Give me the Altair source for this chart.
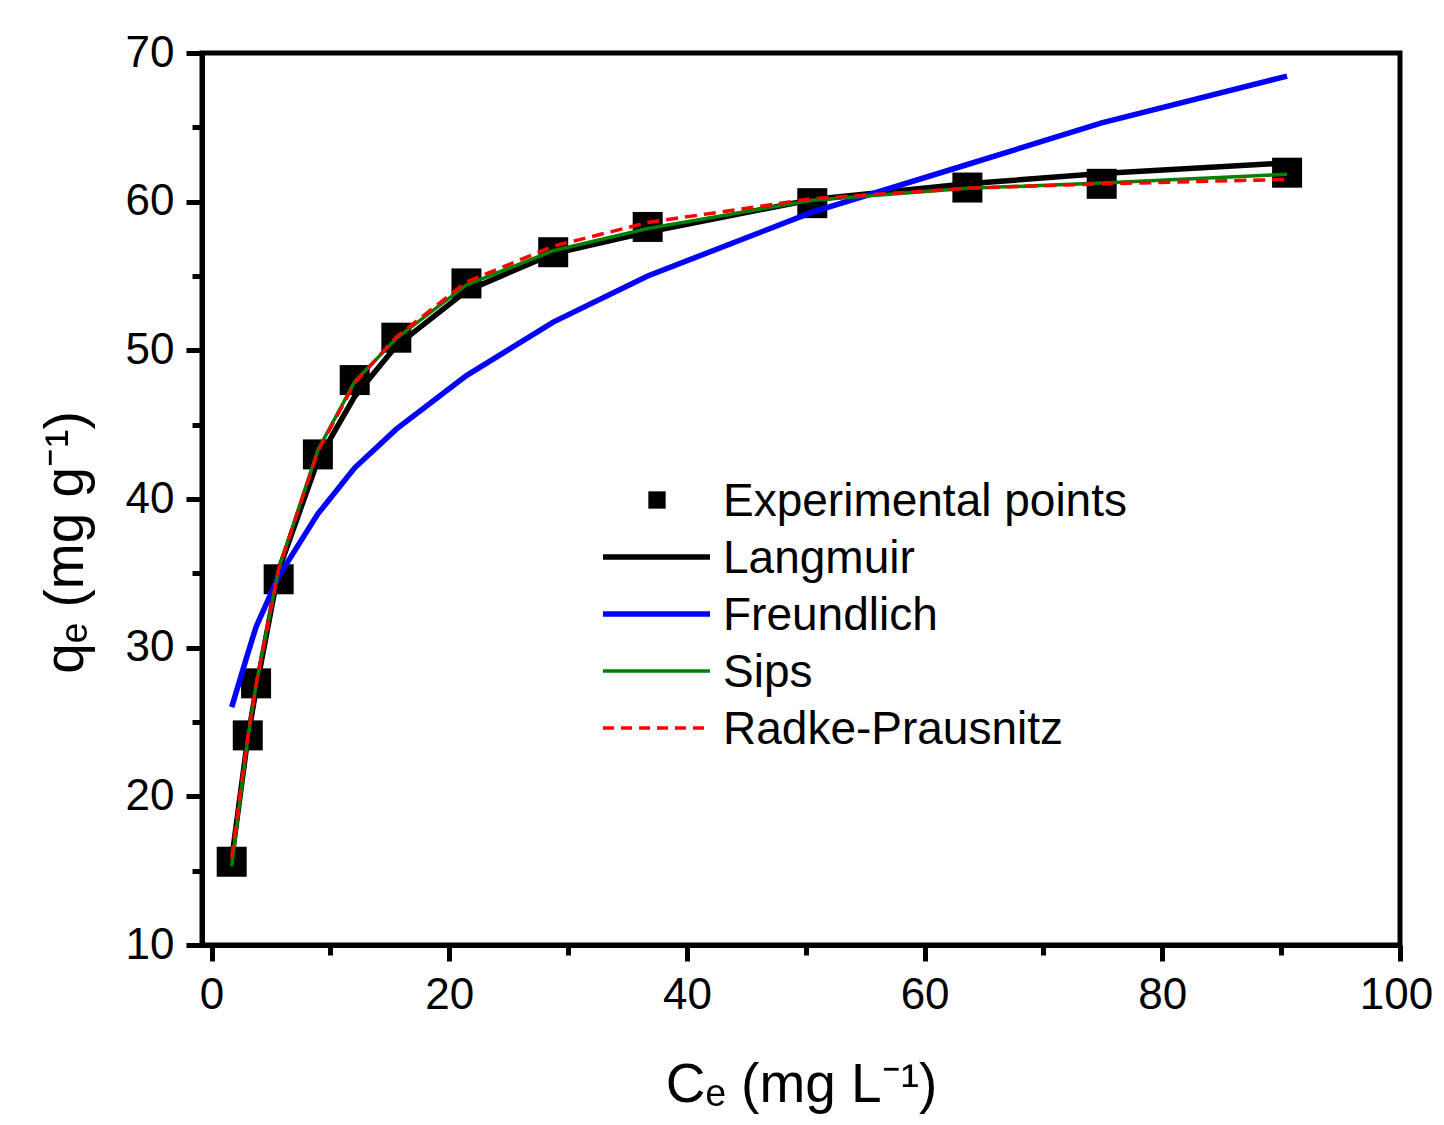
import altair as alt
import pandas as pd

# ---- data ----
ce = [1.7, 3.05, 3.75, 5.65, 8.95, 12.05, 15.55, 21.45, 28.75, 36.7, 50.55, 63.6, 74.9, 90.5]
qe_exp = [15.6, 24.1, 27.6, 34.6, 43.0, 48.0, 50.85, 54.5, 56.6, 58.3, 59.9, 60.95, 61.2, 61.95]
langmuir = [15.8, 23.9, 27.2, 35.2, 42.6, 46.9, 50.3, 54.0, 56.5, 57.95, 60.15, 61.2, 61.9, 62.6]
freundlich = [26.0, 29.6, 31.4, 34.8, 39.0, 42.1, 44.7, 48.3, 51.9, 55.0, 59.3, 62.5, 65.3, 68.45]
sips = [15.3, 23.9, 27.5, 35.3, 43.3, 47.9, 50.8, 54.4, 56.7, 58.2, 60.1, 60.9, 61.25, 61.85]
radke = [15.9, 24.0, 27.5, 35.3, 43.2, 47.8, 50.9, 54.6, 57.0, 58.6, 60.2, 60.9, 61.2, 61.5]

legend_labels = ["Experimental points", "Langmuir", "Freundlich", "Sips", "Radke-Prausnitz"]
x_ticks = list(range(0, 101, 10))
y_ticks = list(range(10, 71, 5))

FONT = "Liberation Sans, Arial, sans-serif"

df = pd.DataFrame({"ce": ce, "exp": qe_exp, "Langmuir": langmuir,
                   "Freundlich": freundlich, "Sips": sips, "Radke-Prausnitz": radke})
leg = pd.DataFrame({"label": legend_labels, "row": list(range(len(legend_labels)))})

xscale = alt.Scale(domain=[-0.8, 100], nice=False, zero=False)
yscale = alt.Scale(domain=[10, 70], nice=False, zero=False)

x_axis = alt.Axis(
    values=x_ticks,
    labelExpr="datum.value % 20 === 0 ? datum.label : ''",
    tickSize={"condition": {"test": "datum.value % 20 === 0", "value": 16}, "value": 10},
    labelOffset={"condition": {"test": "datum.value === 100", "value": -4}, "value": 0},
    tickWidth=5, tickColor="black", domainWidth=5, domainColor="black",
    labelFont=FONT, labelFontSize=44, labelColor="black", labelPadding=12,
    labelFlush=False, labelOverlap=False, grid=False,
    title="Cₑ (mg L⁻¹)", titleFont=FONT, titleFontSize=55, titleFontWeight="normal",
    titleColor="black", titleBaseline="alphabetic", titleY=156,
)
y_axis = alt.Axis(
    values=y_ticks,
    labelExpr="datum.value % 10 === 0 ? datum.label : ''",
    tickSize={"condition": {"test": "datum.value % 10 === 0", "value": 16}, "value": 10},
    tickWidth=5, tickColor="black", domainWidth=5, domainColor="black",
    labelFont=FONT, labelFontSize=44, labelColor="black", labelPadding=12,
    labelFlush=False, labelOverlap=False, grid=False,
    title="qₑ (mg g⁻¹)", titleFont=FONT, titleFontSize=55, titleFontWeight="normal",
    titleColor="black", titleAngle=270, titleBaseline="alphabetic",
    titleX=-120, titleY=489,
)

base = alt.Chart(df)
points = base.mark_square(size=900, color="black", opacity=1).encode(
    x=alt.X("ce:Q", scale=xscale, axis=x_axis),
    y=alt.Y("exp:Q", scale=yscale, axis=y_axis),
)

def curve(col, color, width, dash=None):
    kw = dict(color=color, strokeWidth=width)
    if dash:
        kw["strokeDash"] = dash
    return base.mark_line(**kw).encode(
        x=alt.X("ce:Q", scale=xscale),
        y=alt.Y(f"{col}:Q", scale=yscale),
    )

l_lang = curve("Langmuir", "black", 5.5)
l_freu = curve("Freundlich", "#0000ff", 5.5)
l_sips = curve("Sips", "#008000", 3.5)
l_radk = curve("Radke-Prausnitz", "#ff0000", 3.5, [12, 7])

main = alt.layer(points, l_lang, l_freu, l_sips, l_radk)

# ---- legend, built from the legend table ----
lscale = alt.Scale(domain=[0, 4], range=[447, 675])
lb = alt.Chart(leg)
ly = alt.Y("row:Q", scale=lscale, axis=None)
leg_text = lb.mark_text(align="left", baseline="middle", font=FONT, fontSize=46,
                        color="black", dy=2).encode(
    x=alt.value(521), y=ly, text="label:N")
leg_sq = lb.transform_filter(alt.datum.row == 0).mark_square(
    size=300, color="black", opacity=1).encode(x=alt.value(455), y=ly)

def leg_line(i, color, width, dash=None):
    kw = dict(color=color, strokeWidth=width)
    if dash:
        kw["strokeDash"] = dash
    return lb.transform_filter(alt.datum.row == i).mark_rule(**kw).encode(
        x=alt.value(401), x2=alt.value(508), y=ly)

legend = alt.layer(
    leg_sq,
    leg_line(1, "black", 5.5),
    leg_line(2, "#0000ff", 5.5),
    leg_line(3, "#008000", 3.5),
    leg_line(4, "#ff0000", 3.5, [11, 7]),
    leg_text,
)

chart = alt.layer(main, legend).resolve_scale(y="independent").properties(
    width=1198, height=892,
    autosize=alt.AutoSizeParams(type="none"),
    padding={"left": 194, "top": 45, "right": 36, "bottom": 172},
    background="white",
).configure_view(stroke="black", strokeWidth=5)

chart.save("out.html", embed_options={"renderer": "svg", "actions": False})
